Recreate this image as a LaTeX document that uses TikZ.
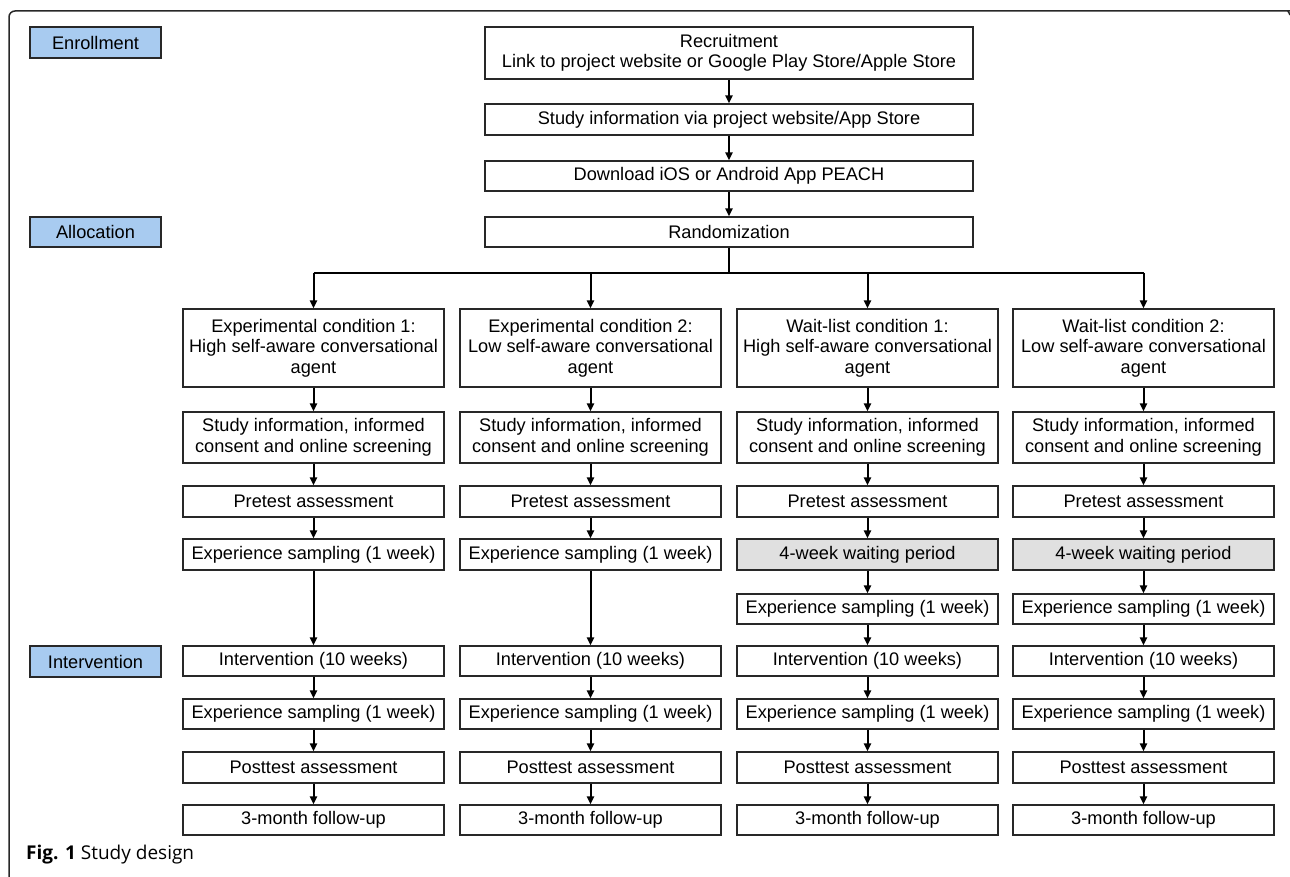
\documentclass[tikz,border=0pt]{standalone}
\usepackage{fontspec}
\setmainfont{Liberation Sans}
\newfontfamily\capfont{Open Sans}
\usetikzlibrary{arrows.meta}
\definecolor{phaseblue}{RGB}{168,203,240}
\definecolor{waitgray}{RGB}{224,224,224}
\definecolor{edgegray}{RGB}{40,40,40}
\newcommand\bx[7]{\node[#2,minimum width={#5pt-#3pt},minimum height={#6pt-#4pt}] (#1) at ({(#3+#5)/2},{(#4+#6)/2}) {#7};}
\begin{document}
\begin{tikzpicture}[x=1pt,y=-1pt,
  every node/.style={font=\fontsize{18.2}{20.5}\selectfont},
  stepbox/.style={draw=edgegray,line width=1.2pt,fill=white,align=center,inner sep=0pt},
  phasebox/.style={stepbox,fill=phaseblue},
  waitbox/.style={stepbox,fill=waitgray},
  arr/.style={line width=2pt,-{Triangle[length=8pt,width=7pt]}},
  link/.style={line width=2pt},
  frame/.style={draw=edgegray,line width=1.5pt}]
\useasboundingbox (0,0) rectangle (1290,877);
\draw[frame,rounded corners=6pt] (9,877) -- (9,11) -- (1283,11) .. controls (1287,11) and (1289,12) .. (1290,15);

% phase labels
\bx{enr}{phasebox}{30}{27}{161}{58}{Enrollment}
\bx{alloc}{phasebox}{30}{217}{161}{247}{Allocation}
\bx{interv}{phasebox}{30}{646}{161}{677}{Intervention}

% central chain
\bx{recr}{stepbox}{485}{27}{973}{79}{Recruitment\\Link to project website or Google Play Store/Apple Store}
\bx{info}{stepbox}{485}{104}{973}{135}{Study information via project website/App Store}
\bx{down}{stepbox}{485}{161}{973}{191}{Download iOS or Android App PEACH}
\bx{rand}{stepbox}{485}{217}{973}{247}{Randomization}
\draw[arr] (recr) -- (info);
\draw[arr] (info) -- (down);
\draw[arr] (down) -- (rand);

% condition boxes
\bx{cond1}{stepbox}{183}{309}{444}{387}{Experimental condition 1:\\High self-aware conversational\\agent}
\bx{cond2}{stepbox}{460}{309}{721}{387}{Experimental condition 2:\\Low self-aware conversational\\agent}
\bx{cond3}{stepbox}{737}{309}{998}{387}{Wait-list condition 1:\\High self-aware conversational\\agent}
\bx{cond4}{stepbox}{1013}{309}{1274}{387}{Wait-list condition 2:\\Low self-aware conversational\\agent}

\coordinate (br) at (729,273);
\draw[link] (rand.south) -- (br);
\draw[link] (br -| cond1.north) -- (br -| cond4.north);
\foreach \c in {1,2,3,4}{
  \draw[arr] (br -| cond\c.north) -- (cond\c.north);
}

% common rows
\foreach \c/\xl/\xr in {1/183/444,2/460/721,3/737/998,4/1013/1274}{
  \bx{si\c}{stepbox}{\xl}{412}{\xr}{463}{Study information, informed\\consent and online screening}
  \bx{pre\c}{stepbox}{\xl}{486}{\xr}{517}{Pretest assessment}
  \bx{int\c}{stepbox}{\xl}{646}{\xr}{676}{Intervention (10 weeks)}
  \bx{es\c}{stepbox}{\xl}{699}{\xr}{729}{Experience sampling (1 week)}
  \bx{post\c}{stepbox}{\xl}{752}{\xr}{783}{Posttest assessment}
  \bx{fu\c}{stepbox}{\xl}{805}{\xr}{835}{3-month follow-up}
}
% experimental arms
\foreach \c/\xl/\xr in {1/183/444,2/460/721}{
  \bx{esa\c}{stepbox}{\xl}{539}{\xr}{570}{Experience sampling (1 week)}
}
% wait-list arms
\foreach \c/\xl/\xr in {3/737/998,4/1013/1274}{
  \bx{wait\c}{waitbox}{\xl}{539}{\xr}{570}{4-week waiting period}
  \bx{esa\c}{stepbox}{\xl}{594}{\xr}{624}{Experience sampling (1 week)}
}

\foreach \c in {1,2,3,4}{
  \draw[arr] (cond\c) -- (si\c);
  \draw[arr] (si\c) -- (pre\c);
  \draw[arr] (esa\c) -- (int\c);
  \draw[arr] (int\c) -- (es\c);
  \draw[arr] (es\c) -- (post\c);
  \draw[arr] (post\c) -- (fu\c);
}
\foreach \c in {1,2}{
  \draw[arr] (pre\c) -- (esa\c);
}
\foreach \c in {3,4}{
  \draw[arr] (pre\c) -- (wait\c);
  \draw[arr] (wait\c) -- (esa\c);
}

\node[anchor=base west,inner sep=0pt,font=\capfont\fontsize{19}{21}\selectfont] (cap) at (26,859) {\textbf{Fig. 1} Study design};
\end{tikzpicture}
\end{document}
